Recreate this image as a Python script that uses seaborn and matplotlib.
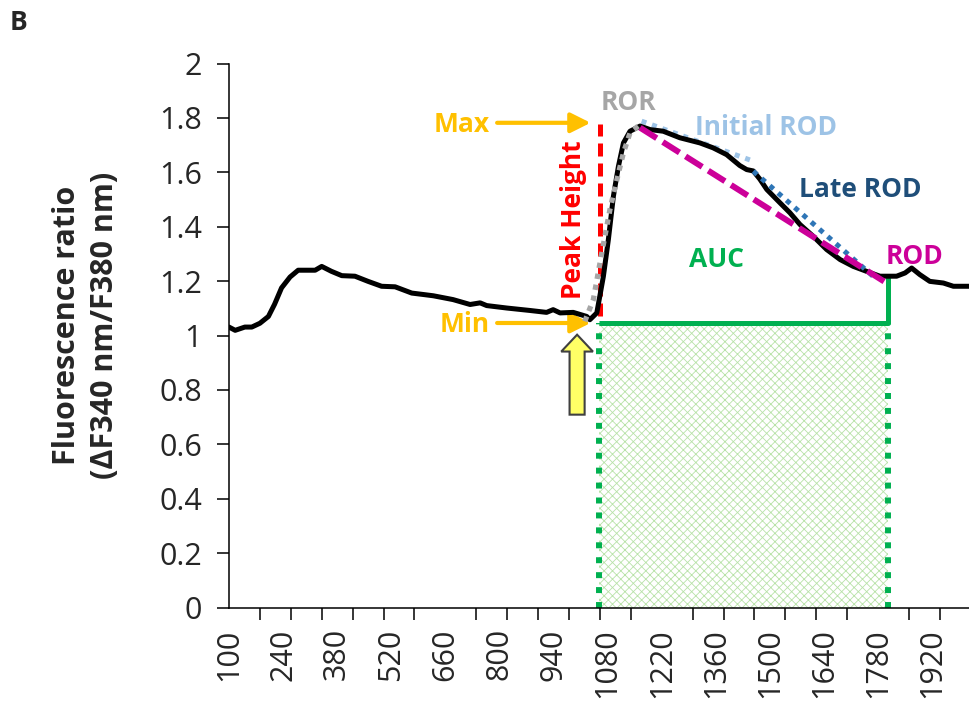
import numpy as np
import pandas as pd
import matplotlib
matplotlib.use("Agg")
import matplotlib.pyplot as plt
from matplotlib.patches import FancyArrow
from matplotlib.ticker import FixedLocator, FuncFormatter
import seaborn as sns

# ---------------- data ----------------
time = [100, 116, 141, 159, 180, 202, 218, 236, 258, 279, 300, 323, 340, 365,
        392, 426, 460, 495, 530, 573, 607, 629, 680, 724, 750, 767, 819, 879,
        922, 939, 957, 991, 1026, 1034, 1052, 1069, 1082, 1095, 1108, 1121,
        1138, 1164, 1190, 1224, 1267, 1319, 1353, 1388, 1422, 1440, 1457, 1474,
        1492, 1526, 1552, 1578, 1612, 1647, 1682, 1716, 1750, 1785, 1828, 1850,
        1867, 1888, 1914, 1949, 1975, 2018]
ratio = [1.031, 1.019, 1.031, 1.031, 1.045, 1.070, 1.115, 1.175, 1.215, 1.240,
         1.240, 1.240, 1.254, 1.236, 1.220, 1.218, 1.199, 1.181, 1.179, 1.156,
         1.150, 1.146, 1.132, 1.114, 1.120, 1.110, 1.101, 1.092, 1.085, 1.095,
         1.083, 1.085, 1.070, 1.058, 1.083, 1.217, 1.353, 1.512, 1.622, 1.708,
         1.751, 1.770, 1.757, 1.751, 1.727, 1.708, 1.690, 1.665, 1.625, 1.610,
         1.605, 1.575, 1.537, 1.488, 1.451, 1.408, 1.365, 1.316, 1.279, 1.254,
         1.236, 1.218, 1.218, 1.230, 1.248, 1.224, 1.199, 1.193, 1.181, 1.181]

# rate of rise (fitted rise, gray)
ror_time = [1021, 1043, 1065, 1086, 1104, 1121, 1138, 1159]
ror_ratio = [1.052, 1.132, 1.304, 1.463, 1.573, 1.672, 1.745, 1.770]
# peak height
peak_time = [1060, 1060]
peak_ratio = [1.070, 1.776]
# initial / late / overall rate of decay
init_rod_time = [1168, 1457]
init_rod_ratio = [1.788, 1.641]
late_rod_time = [1457, 1767]
late_rod_ratio = [1.604, 1.218]
rod_time = [1164, 1802]
rod_ratio = [1.764, 1.193]
# area under curve
auc_time = [1058, 1806]
auc_level = [1.046, 1.046]
auc_right_top = 1.212

xtick_labels = [100, 240, 380, 520, 660, 800, 940, 1080, 1220, 1360, 1500,
                1640, 1780, 1920]
minor_ticks = list(range(100, 2020, 80))
yticks = [0, 0.2, 0.4, 0.6, 0.8, 1, 1.2, 1.4, 1.6, 1.8, 2]

# ---------------- style ----------------
sns.set_style("white")
plt.rcParams["font.family"] = ["Open Sans", "DejaVu Sans"]
plt.rcParams["hatch.linewidth"] = 0.6

fig = plt.figure(figsize=(9.7, 7.1), dpi=100)
ax = fig.add_axes([229 / 970, 1 - 607.5 / 710, 741 / 970, 544 / 710])

GREEN = "#00B050"

# AUC hatched area
ax.fill_between(auc_time, [0, 0], auc_level, facecolor="none",
                edgecolor="#B8E2A8", hatch="xxxx", linewidth=0, zorder=1)
for xv in auc_time:
    ax.plot([xv, xv], [0, auc_level[0]], color=GREEN, lw=4.3,
            linestyle=(0, (1, 1.5)), solid_capstyle="butt", zorder=2)
ax.plot(auc_time, auc_level, color=GREEN, lw=3.6, zorder=2,
        solid_capstyle="butt")
ax.plot([auc_time[1], auc_time[1]], [auc_level[1], auc_right_top],
        color=GREEN, lw=3.6, zorder=2)

# main trace
df = pd.DataFrame({"time": time, "ratio": ratio})
sns.lineplot(data=df, x="time", y="ratio", ax=ax, color="black", lw=3.6,
             zorder=4, sort=False)

# peak height
ax.plot(peak_time, peak_ratio, color="#FF0000", lw=3.6,
        linestyle=(0, (2.6, 1.4)), zorder=3)
# ROR
ax.plot(ror_time, ror_ratio, color="#A6A6A6", lw=3.8,
        linestyle=(0, (1, 1.1)), zorder=5)
# initial ROD
ax.plot(init_rod_time, init_rod_ratio, color="#9DC3E6", lw=3.6,
        linestyle=(0, (1, 1.2)), zorder=3)
# late ROD
ax.plot(late_rod_time, late_rod_ratio, color="#2E75B6", lw=3.6,
        linestyle=(0, (1, 1.2)), zorder=5)
# ROD
ax.plot(rod_time, rod_ratio, color="#CC0099", lw=4.3,
        linestyle=(0, (3.3, 1.2)), zorder=6)

# ---------------- annotations ----------------
fs = 19
ORANGE = "#FFC000"
ax.text(775, 1.776, "Max", color=ORANGE, fontsize=fs, fontweight="bold",
        ha="right", va="center")
ax.text(775, 1.040, "Min", color=ORANGE, fontsize=fs, fontweight="bold",
        ha="right", va="center")
for yv in (1.782, 1.046):
    ax.annotate("", xy=(1036, yv), xytext=(794, yv),
                arrowprops=dict(arrowstyle="-|>", color=ORANGE, lw=3,
                                mutation_scale=30, shrinkA=0, shrinkB=0))
ax.text(991, 1.426, "Peak Height", color="#FF0000", fontsize=fs,
        fontweight="bold", rotation=90, ha="center", va="center")
ax.text(1133, 1.855, "ROR", color="#A6A6A6", fontsize=fs, fontweight="bold",
        ha="center", va="center")
ax.text(1490, 1.764, "Initial ROD", color="#9DC3E6", fontsize=fs,
        fontweight="bold", ha="center", va="center")
ax.text(1733, 1.537, "Late ROD", color="#1F4E79", fontsize=fs,
        fontweight="bold", ha="center", va="center")
ax.text(1875, 1.291, "ROD", color="#CC0099", fontsize=fs, fontweight="bold",
        ha="center", va="center")
ax.text(1362, 1.279, "AUC", color=GREEN, fontsize=fs, fontweight="bold",
        ha="center", va="center")

# yellow stimulus arrow
arr = FancyArrow(1001, 0.709, 0, 0.294, width=39, head_width=82,
                 head_length=0.062, length_includes_head=True,
                 facecolor="#FFFF66", edgecolor="#404040", lw=1.5, zorder=6)
ax.add_patch(arr)

# ---------------- axes ----------------
ax.set_xlim(100, 2018)
ax.set_ylim(0, 2)
ax.set_xlabel("")
ax.set_ylabel("")
for s in ("top", "right"):
    ax.spines[s].set_visible(False)
for s in ("left", "bottom"):
    ax.spines[s].set_color("black")
    ax.spines[s].set_linewidth(1.1)

ax.xaxis.set_major_locator(FixedLocator(xtick_labels))
ax.xaxis.set_minor_locator(FixedLocator(minor_ticks))
ax.set_xticklabels([str(v) for v in xtick_labels], rotation=90)
ax.tick_params(axis="x", which="major", length=0, pad=15, labelsize=22)
ax.tick_params(axis="x", which="minor", length=8.5, width=1.1,
               direction="out", color="black", bottom=True)
ax.set_yticks(yticks)
ax.yaxis.set_major_formatter(FuncFormatter(lambda v, p: f"{v:g}"))
ax.tick_params(axis="y", which="major", length=8.5, width=1.1,
               direction="out", color="black", labelsize=22, pad=11, left=True)

fig.text(86 / 970, 1 - 325 / 710,
         "Fluorescence ratio\n(\u0394F340 nm/F380 nm)", rotation=90,
         ha="center", va="center", fontsize=22, fontweight="bold",
         linespacing=1.35)
fig.text(10 / 970, 1 - 22 / 710, "B", fontsize=19, fontweight="bold",
         ha="left", va="center")

fig.savefig("out.png", dpi=100)
